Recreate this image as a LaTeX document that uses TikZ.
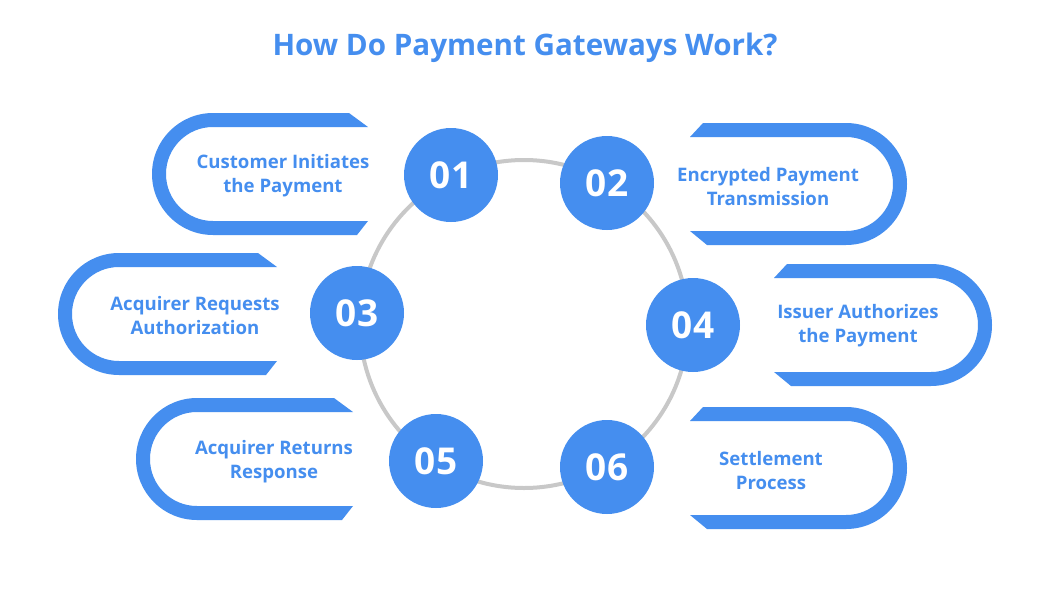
\documentclass[tikz,border=0pt]{standalone}
\usepackage{fontspec}
\setmainfont{Open Sans}
\usepackage{tikz}
\usetikzlibrary{positioning}
\definecolor{stepblue}{RGB}{69,142,239}
\definecolor{ringgray}{RGB}{200,200,200}
% C-shaped frame, open side to the right: left edge, open end, middle y
\newcommand{\leftpill}[3]{%
  \fill[stepblue] (#2-19,#3-61) -- (#1+61,#3-61) arc(270:90:61)
    -- (#2-11,#3+61) -- (#2,#3+47) -- (#1+61,#3+47) arc(90:270:47)
    -- (#2,#3-47) -- cycle;}
% same frame, open side to the left: right edge, open end, middle y
\newcommand{\rightpill}[3]{%
  \fill[stepblue] (#2+13,#3-61) -- (#1-61,#3-61) arc(-90:90:61)
    -- (#2+17,#3+61) -- (#2,#3+47) -- (#1-61,#3+47) arc(90:-90:47)
    -- (#2,#3-47) -- cycle;}

\begin{document}
\begin{tikzpicture}[
    x=1pt, y=-1pt,
    ring/.style={draw=ringgray, line width=4pt},
    numdot/.style={circle, fill=stepblue, minimum size=94pt, inner sep=0pt,
      text=white, font=\bfseries\fontsize{37}{37}\selectfont},
    steptext/.style={align=center, text=stepblue,
      font=\bfseries\fontsize{18.6}{24}\selectfont},
    headline/.style={text=stepblue, font=\bfseries\fontsize{29.6}{32}\selectfont}]
  \useasboundingbox[fill=white] (0,0) rectangle (1050,600);

  \node[headline] (title) at (525,48) {How Do Payment Gateways Work?};

  % ring behind the numbers
  \draw[ring] (524,324) circle[radius=164];

  % frames
  \leftpill{152}{368}{174}
  \rightpill{907}{690}{184}
  \leftpill{58}{277}{314}
  \rightpill{992}{774}{325}
  \leftpill{136}{353}{459}
  \rightpill{907}{690}{468}

  % numbers
  \node[numdot] (n1) at (451,175) {01};
  \node[numdot] (n2) at (607,183) {02};
  \node[numdot] (n3) at (357,313) {03};
  \node[numdot] (n4) at (693,325) {04};
  \node[numdot] (n5) at (436,461) {05};
  \node[numdot] (n6) at (607,467) {06};

  % step texts
  \node[steptext] (t1) at (283,176) {Customer Initiates\\the Payment};
  \node[steptext] (t2) at (768,187) {Encrypted Payment\\Transmission};
  \node[steptext] (t3) at (195,316) {Acquirer Requests\\Authorization};
  \node[steptext] (t4) at (858,326) {Issuer Authorizes\\the Payment};
  \node[steptext] (t5) at (274,462) {Acquirer Returns\\Response};
  \node[steptext] (t6) at (771,471) {Settlement\\Process};
\end{tikzpicture}
\end{document}
